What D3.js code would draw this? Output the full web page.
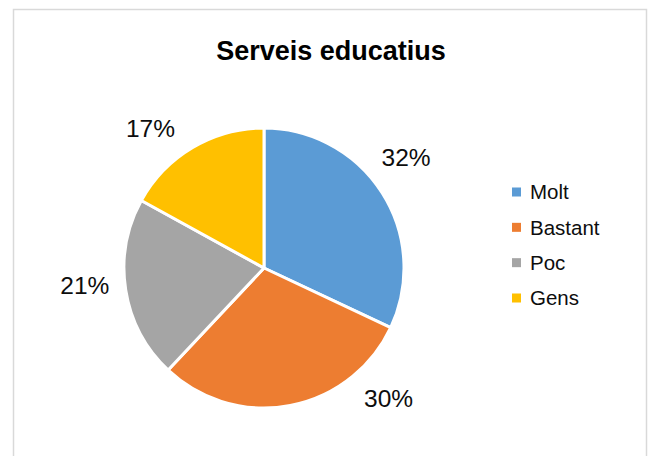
<!DOCTYPE html>
<html>
<head>
<meta charset="utf-8">
<script src="https://cdn.jsdelivr.net/npm/d3@7"></script>
<style>
  html, body { margin: 0; padding: 0; background: #fff; }
  svg { display: block; }
</style>
</head>
<body>
<svg id="chart" width="651" height="456"></svg>
<script>
// ---- data ----
const title = "Serveis educatius";
const categories = ["Molt", "Bastant", "Poc", "Gens"];
const values = [32, 30, 21, 17];
const colors = ["#5B9BD5", "#ED7D31", "#A5A5A5", "#FFC000"];

// ---- layout (styling, not data) ----
const W = 651, H = 456;
const cx = 264, cy = 268, R = 140;
const labelRadius = 180;
const labelAngleNudge = [-5.5, -33, 3.5, -8.5]; // degrees, Excel "best fit" placement

const svg = d3.select("#chart");

// chart area border
svg.append("rect")
  .attr("x", 13.5).attr("y", 9.5)
  .attr("width", 633).attr("height", 470)
  .attr("fill", "#fff")
  .attr("stroke", "#d9d9d9")
  .attr("stroke-width", 1.5);

// title
svg.append("text")
  .attr("x", 331).attr("y", 60)
  .attr("text-anchor", "middle")
  .attr("font-family", "'Liberation Sans', Arial, sans-serif")
  .attr("font-weight", "bold")
  .attr("font-size", 27)
  .attr("fill", "#000")
  .text(title);

const data = categories.map((c, i) => ({ cat: c, value: values[i], color: colors[i], i }));

const pie = d3.pie().sort(null).value(d => d.value);
const arcs = pie(data);
const arc = d3.arc().innerRadius(0).outerRadius(R);

const g = svg.append("g").attr("transform", `translate(${cx},${cy})`);

g.selectAll("path.slice")
  .data(arcs)
  .enter().append("path")
  .attr("class", "slice")
  .attr("d", arc)
  .attr("fill", d => d.data.color)
  .attr("stroke", "#fff")
  .attr("stroke-width", 3)
  .attr("stroke-linejoin", "round");

const fmt = d3.format(".0%");
const total = d3.sum(values);

g.selectAll("text.lbl")
  .data(arcs)
  .enter().append("text")
  .attr("class", "lbl")
  .attr("x", d => {
    const a = (d.startAngle + d.endAngle) / 2 + labelAngleNudge[d.data.i] * Math.PI / 180;
    return labelRadius * Math.sin(a);
  })
  .attr("y", d => {
    const a = (d.startAngle + d.endAngle) / 2 + labelAngleNudge[d.data.i] * Math.PI / 180;
    return -labelRadius * Math.cos(a);
  })
  .attr("dy", "0.36em")
  .attr("text-anchor", "middle")
  .attr("font-family", "'Liberation Sans', Arial, sans-serif")
  .attr("font-size", 24.5)
  .attr("fill", "#0d0d0d")
  .text(d => fmt(d.data.value / total));

// legend
const legendY = d3.scalePoint().domain(categories).range([192, 298]);
const lg = svg.append("g");
const items = lg.selectAll("g.item")
  .data(data)
  .enter().append("g")
  .attr("class", "item")
  .attr("transform", d => `translate(512,${legendY(d.cat)})`);

items.append("rect")
  .attr("x", 0).attr("y", -4.5)
  .attr("width", 9).attr("height", 9)
  .attr("fill", d => d.color);

items.append("text")
  .attr("x", 18).attr("y", 0)
  .attr("dy", "0.36em")
  .attr("font-family", "'Liberation Sans', Arial, sans-serif")
  .attr("font-size", 20.5)
  .attr("fill", "#0d0d0d")
  .text(d => d.cat);
</script>
</body>
</html>
